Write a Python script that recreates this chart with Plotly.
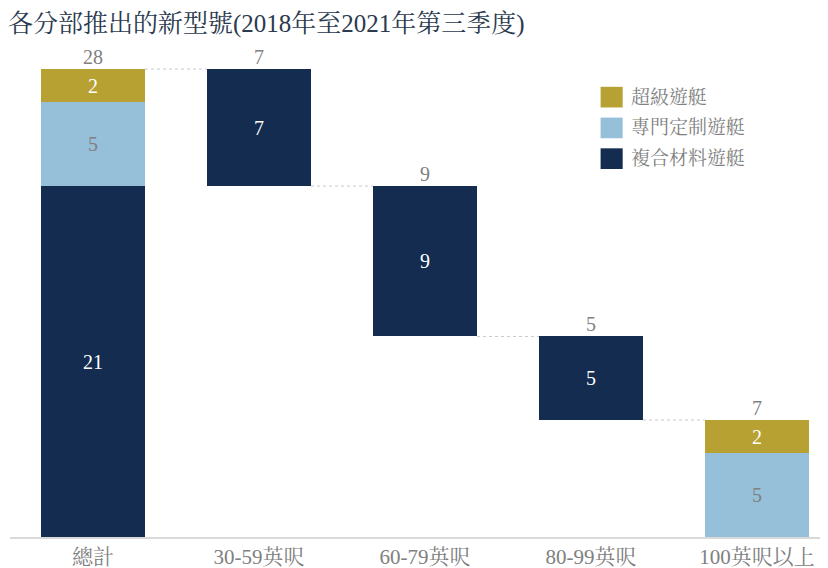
import numpy as np
import plotly.graph_objects as go

categories = ["總計", "30-59英呎", "60-79英呎", "80-99英呎", "100英呎以上"]
composite = [21, 7, 9, 5, 0]   # 複合材料遊艇
custom = [5, 0, 0, 0, 5]       # 專門定制遊艇
superyacht = [2, 0, 0, 0, 2]   # 超級遊艇
series_names = ["超級遊艇", "專門定制遊艇", "複合材料遊艇"]
title_text = "各分部推出的新型號(2018年至2021年第三季度)"

NAVY = "#132C50"
LIGHT = "#96BFD9"
GOLD = "#B8A133"
GRAY = "#808080"
FONT = "Liberation Serif, Noto Serif CJK TC, Noto Sans CJK TC, serif"

comp = np.array(composite)
cust = np.array(custom)
sup = np.array(superyacht)
totals = comp + cust + sup
grand = totals[0]
base = np.zeros(len(categories))
run = grand
for i in range(1, len(categories)):
    run = run - totals[i]
    base[i] = run
tops = base + totals

def txt(arr):
    return [str(v) if v else "" for v in arr]

fig = go.Figure()
fig.add_bar(x=categories, y=base, marker=dict(color="rgba(0,0,0,0)", line=dict(width=0)),
            showlegend=False, hoverinfo="skip")
fig.add_bar(x=categories, y=comp, marker=dict(color=NAVY, line=dict(width=0)), name=series_names[2],
            text=txt(comp), textposition="inside", insidetextanchor="middle",
            textfont=dict(color="white", size=20, family=FONT), showlegend=False)
fig.add_bar(x=categories, y=cust, marker=dict(color=LIGHT, line=dict(width=0)), name=series_names[1],
            text=txt(cust), textposition="inside", insidetextanchor="middle",
            textfont=dict(color=GRAY, size=20, family=FONT), showlegend=False)
fig.add_bar(x=categories, y=sup, marker=dict(color=GOLD, line=dict(width=0)), name=series_names[0],
            text=txt(sup), textposition="inside", insidetextanchor="middle",
            textfont=dict(color="white", size=20, family=FONT), showlegend=False)
fig.add_scatter(x=categories, y=tops, mode="text", text=[str(int(v)) for v in totals],
                textposition="top center", textfont=dict(color=GRAY, size=20, family=FONT),
                showlegend=False, hoverinfo="skip", cliponaxis=False)

bw = 0.627
shapes = []
for i in range(len(categories) - 1):
    ylev = tops[0] if i == 0 else base[i]
    shapes.append(dict(type="line", xref="x", yref="y", x0=i + bw / 2, x1=i + 1 - bw / 2,
                       y0=ylev, y1=ylev, line=dict(color="#C8C8C8", width=1, dash="dot")))

# custom legend
leg_colors = [GOLD, LIGHT, NAVY]
annotations = []
for k, (nm, c) in enumerate(zip(series_names, leg_colors)):
    yc = 0.894 - k * 0.0625
    shapes.append(dict(type="rect", xref="paper", yref="paper", x0=0.722, x1=0.749,
                       y0=yc - 0.021, y1=yc + 0.021, fillcolor=c, line=dict(width=0)))
    annotations.append(dict(xref="paper", yref="paper", x=0.757, y=yc, text=nm,
                            showarrow=False, xanchor="left", yanchor="middle",
                            font=dict(color=GRAY, size=19, family=FONT)))

# page body has an 8px margin, so the figure is sized to fit inside 828x568
fig.update_layout(
    barmode="stack",
    bargap=0.373,
    width=820, height=560,
    margin=dict(l=2, r=0, t=37, b=31),
    plot_bgcolor="white", paper_bgcolor="white",
    title=dict(text=title_text, x=0.0, xanchor="left", y=0.972, yanchor="middle",
               font=dict(size=25, color="#2B3A4E", family=FONT)),
    xaxis=dict(range=[-0.5, 4.428], showline=True, linecolor="#D9D9D9", linewidth=1.5,
               ticks="", tickfont=dict(size=21, color=GRAY, family=FONT), showgrid=False,
               automargin=False),
    yaxis=dict(range=[0, 29.44], visible=False, showgrid=False),
    shapes=shapes,
    annotations=annotations,
)

fig.write_html("out.html")
